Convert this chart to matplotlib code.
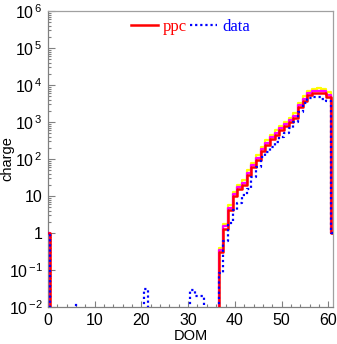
import numpy as np
import matplotlib
matplotlib.use("Agg")
import matplotlib.pyplot as plt
from matplotlib.ticker import FixedLocator, FixedFormatter, MultipleLocator

plt.rcParams['font.family'] = ['Liberation Sans', 'DejaVu Sans']
plt.rcParams['mathtext.fontset'] = 'custom'
plt.rcParams['mathtext.rm'] = 'Liberation Sans'
plt.rcParams['mathtext.it'] = 'Liberation Sans'

# ---- data ----
n_dom = 62
dom_active = list(range(37, 61))
ppc_active = [0.3, 1.3, 4.2, 10, 15, 20, 38, 60, 95, 160, 245, 340, 450, 590,
              760, 980, 1300, 2500, 3800, 5300, 6000, 6200, 6000, 4800]
ppc_hi_active = [0.4, 1.8, 5.6, 13, 20, 27, 50, 80, 125, 210, 320, 450, 600, 780,
                 1000, 1300, 1750, 3300, 5000, 7000, 8000, 8200, 8000, 6300]
ppc_mid_active = [0.34, 1.5, 4.8, 11.5, 17, 23, 43, 68, 108, 182, 278, 385, 510, 670,
                  860, 1110, 1480, 2850, 4300, 6000, 6800, 7000, 6800, 5450]
data_active = [0.085, 0.6, 1.9, 4.2, 6.5, 10.5, 15, 32, 60, 115, 158, 215, 295, 385,
               490, 700, 1000, 1900, 3300, 4500, 4800, 4600, 4100, 3800]
data_extra_dom = [0, 6, 21, 31, 32, 33, 61]
data_extra_val = [1, 0.011, 0.031, 0.028, 0.02, 0.02, 1]
ppc_extra_dom = [0, 61]
ppc_extra_val = [1, 1]

xticks = [0, 10, 20, 30, 40, 50, 60]
yticks = [1e-2, 1e-1, 1, 10, 1e2, 1e3, 1e4, 1e5, 1e6]
ylabels = [r'10$^{\,\mathregular{-2}}$', r'10$^{\,\mathregular{-1}}$', '1', '10',
           r'10$^{\,\mathregular{2}}$', r'10$^{\,\mathregular{3}}$', r'10$^{\,\mathregular{4}}$',
           r'10$^{\,\mathregular{5}}$', r'10$^{\,\mathregular{6}}$']


def build(active_vals, extra_dom, extra_val):
    v = np.zeros(n_dom)
    v[dom_active] = active_vals
    v[extra_dom] = extra_val
    return v


ppc = build(ppc_active, ppc_extra_dom, ppc_extra_val)
ppc_hi = build(ppc_hi_active, ppc_extra_dom, ppc_extra_val)
ppc_mid = build(ppc_mid_active, ppc_extra_dom, ppc_extra_val)
data = build(data_active, data_extra_dom, data_extra_val)

edges = np.arange(n_dom + 1) - 0.5

fig = plt.figure(figsize=(3.37, 3.44), dpi=100)
ax = fig.add_axes([0.1424, 0.1076, 0.8456, 0.8604])


def stepplot(vals, **kw):
    v = np.where(vals > 0, vals, 1e-9)
    y = np.append(v, v[-1])
    return ax.step(edges, y, where='post', **kw)


stepplot(ppc_hi, color='#ffff00', lw=1.6, zorder=2)
stepplot(ppc_mid, color='#ff00ff', lw=1.6, zorder=3)
l1, = stepplot(ppc, color='#ff0000', lw=1.8, zorder=4)
l2, = stepplot(data, color='#0000ff', lw=1.6, ls=(0, (1, 1.3)), zorder=5)

ax.set_yscale('log')
ax.set_xlim(0, 61)
ax.set_ylim(1e-2, 1e6)

ax.yaxis.set_major_locator(FixedLocator(yticks))
ax.yaxis.set_major_formatter(FixedFormatter(ylabels))
ax.xaxis.set_major_locator(FixedLocator(xticks))
ax.xaxis.set_minor_locator(MultipleLocator(2))

ax.tick_params(axis='both', which='both', direction='in', top=False, right=False,
               colors='#808080', labelcolor='black', labelsize=11.5)
ax.tick_params(axis='y', which='major', length=5, width=0.8, pad=4)
ax.tick_params(axis='y', which='minor', length=2.5, width=0.8)
ax.tick_params(axis='x', which='major', length=4, width=0.8, pad=4)
ax.tick_params(axis='x', which='minor', length=2.5, width=0.8)
for s in ax.spines.values():
    s.set_color('#a0a0a0')
    s.set_linewidth(0.9)
ax.spines['left'].set_color('#808080')
ax.spines['bottom'].set_color('#808080')

ax.set_xlabel('DOM', fontsize=10.5, labelpad=1)
ax.set_ylabel('charge', fontsize=10.5)
ax.yaxis.set_label_coords(-0.117, 0.5)

leg = ax.legend([l1, l2], ['ppc', 'data'], ncol=2, frameon=False,
                loc='upper center', bbox_to_anchor=(0.50, 1.025),
                prop={'family': 'Liberation Serif', 'size': 12},
                handlelength=1.6, handletextpad=0.3, columnspacing=0.2)
for t, c in zip(leg.get_texts(), ['#ff0000', '#0000ff']):
    t.set_color(c)

fig.savefig('out.png', dpi=100)
